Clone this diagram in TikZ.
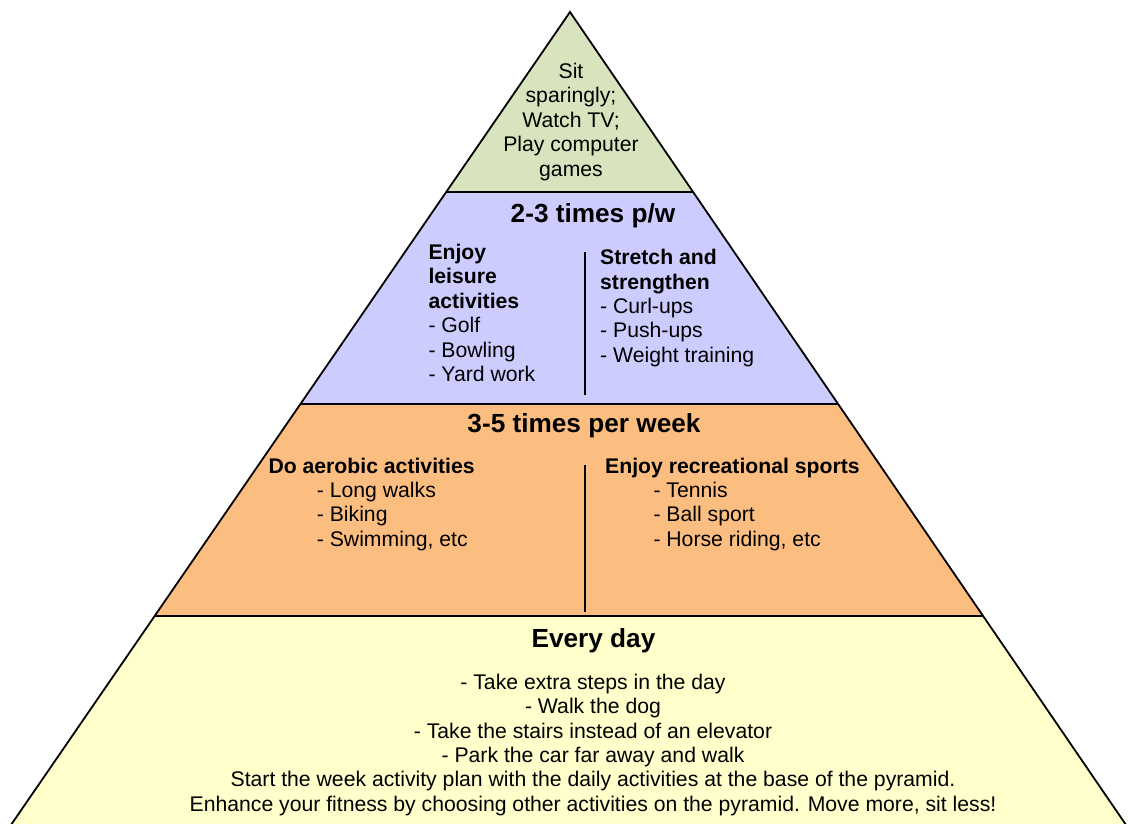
\documentclass[tikz,border=0pt]{standalone}
\usepackage{fontspec}
\setmainfont{Liberation Sans}
\definecolor{tiergreen}{RGB}{215,228,189}
\definecolor{tierpurple}{RGB}{204,204,255}
\definecolor{tierorange}{RGB}{252,190,128}
\definecolor{tieryellow}{RGB}{255,255,204}
\tikzset{
  edge/.style={line width=1.8pt, line join=miter},
  divider/.style={line width=1.8pt},
  body/.style={inner sep=0pt, font=\fontsize{21.2}{24.4}\selectfont},
  bodyleft/.style={body, align=left, anchor=base west},
  bodycenter/.style={body, align=center, anchor=base},
  heading/.style={inner sep=0pt, anchor=base, font=\fontsize{26.2}{30}\selectfont\bfseries},
}
\begin{document}
\begin{tikzpicture}[x=1pt,y=-1pt]
\useasboundingbox (0,0) rectangle (1128,823);
% pyramid geometry
\coordinate (apex) at (570,12);
\coordinate (l1) at (446.2,192); \coordinate (r1) at (693.1,192);
\coordinate (l2) at (300.3,404); \coordinate (r2) at (838.1,404);
\coordinate (l3) at (154.4,616); \coordinate (r3) at (983.1,616);
\coordinate (l4) at (7.5,830);   \coordinate (r4) at (1129.5,830);
% tiers
\fill[tieryellow] (l3) -- (r3) -- (r4) -- (l4) -- cycle;
\fill[tierorange] (l2) -- (r2) -- (r3) -- (l3) -- cycle;
\fill[tierpurple] (l1) -- (r1) -- (r2) -- (l2) -- cycle;
\fill[tiergreen] (apex) -- (r1) -- (l1) -- cycle;
\draw[edge] (l4) -- (apex) -- (r4);
\draw[edge] (l1) -- (r1);
\draw[edge] (l2) -- (r2);
\draw[edge] (l3) -- (r3);
% dividers
\coordinate (d1t) at (585,252); \coordinate (d1b) at (585,395);
\coordinate (d2t) at (585,465); \coordinate (d2b) at (585,612);
\draw[divider] (d1t) -- (d1b);
\draw[divider] (d2t) -- (d2b);
% top tier (anchor = baseline of last line)
\node[bodycenter] (sit) at (571,176) {Sit\\sparingly;\\Watch TV;\\Play computer\\games};
% second tier
\node[heading] (h2) at (593,222.5) {2-3 times p/w};
\node[bodyleft] (leisure) at (428.3,381.5) {\textbf{Enjoy}\\\textbf{leisure}\\\textbf{activities}\\- Golf\\- Bowling\\- Yard work};
\node[bodyleft] (stretch) at (600,362.3) {\textbf{Stretch and}\\\textbf{strengthen}\\- Curl-ups\\- Push-ups\\- Weight training};
% third tier
\node[heading] (h3) at (584,432.5) {3-5 times per week};
\node[bodyleft] (aerobic) at (268.3,473) {\textbf{Do aerobic activities}};
\node[bodyleft] (aerobicitems) at (316.7,546.3) {- Long walks\\- Biking\\- Swimming, etc};
\node[bodyleft] (sports) at (605,473) {\textbf{Enjoy recreational sports}};
\node[bodyleft] (sportsitems) at (653.3,546.3) {- Tennis\\- Ball sport\\- Horse riding, etc};
% base tier
\node[heading] (h4) at (593.5,647.7) {Every day};
\node[bodycenter] (daily) at (593,811.3) {- Take extra steps in the day\\- Walk the dog\\- Take the stairs instead of an elevator\\- Park the car far away and walk\\Start the week activity plan with the daily activities at the base of the pyramid.\\Enhance your fitness by choosing other activities on the pyramid. Move more, sit less!};
\end{tikzpicture}
\end{document}
